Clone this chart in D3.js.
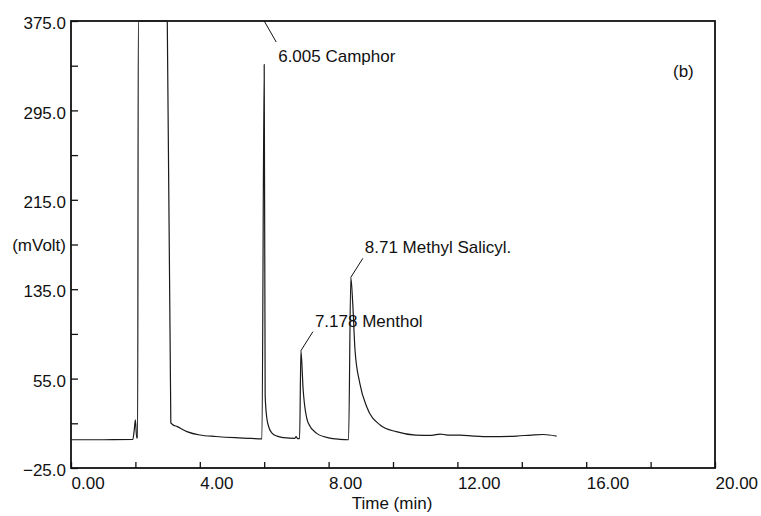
<!DOCTYPE html>
<html>
<head>
<meta charset="utf-8">
<script src="https://cdn.jsdelivr.net/npm/d3@7"></script>
<style>
  body { margin: 0; background: #fff; }
  text { font-family: "Liberation Sans", Arial, sans-serif; fill: #111; }
</style>
</head>
<body>
<div id="main"></div>
<script>
// chromatogram trace (time in min, signal in mVolt)
const timeMin = [0.0, 1.0, 1.92, 1.96, 2.0, 2.04, 2.07, 2.09, 2.99, 3.1, 3.15, 3.3, 3.6, 4.0, 4.5, 5.1, 5.6, 5.9, 5.93,
  6.0, 6.03, 6.08, 6.15, 6.25, 6.4, 6.6, 6.95, 6.99, 7.03, 7.07, 7.1, 7.14, 7.21, 7.37, 7.63, 8.0, 8.35, 8.62,
  8.69, 8.75, 8.82, 8.97, 9.18, 9.6, 10.1, 10.7, 11.2, 11.46, 11.7, 12.08, 12.5, 13.0, 13.84, 14.3, 14.67, 15.08];
const signal = [0.3, 0.3, 0.5, 8, 18, 2, 2, 375, 375, 15.4, 14, 12, 7.6, 4.5, 3.2, 2.1, 1.5, 1, 1,
  336, 40, 20, 11, 6, 3.5, 2.2, 1.5, 3, 1.5, 1.2, 1.2, 80, 44.8, 15, 6, 2, 0.7, 0.3,
  145.6, 122, 80.6, 50.8, 30, 13.5, 7.5, 4.5, 4.2, 5.4, 4.5, 4.5, 3.6, 3, 3.6, 4.5, 5, 3.6];

// peak annotations
const peakNames = ['6.005 Camphor', '7.178 Menthol', '8.71 Methyl Salicyl.'];
const peakTimes = [6.0, 7.14, 8.69];
const peakValues = [375, 80, 145.6];

const yTicks = [-25, 15, 55, 95, 135, 175, 215, 255, 295, 335, 375];
const yLabels = [-25, 55, 135, 215, 295, 375];
const xTicks = [0, 2, 4, 6, 8, 10, 12, 14, 16, 18, 20];
const xLabels = [0, 4, 8, 12, 16, 20];

const w = 761, h = 516;
const padLeft = 71, padRight = 715, padTop = 21, padBottom = 468;

const x = d3.scaleLinear().domain([0, 20]).range([padLeft, padRight]);
const y = d3.scaleLinear().domain([-25, 375]).range([padBottom, padTop]);

const svg = d3.select('#main').append('svg')
  .attr('width', w)
  .attr('height', h);

// y axis, ticks pointing inward
const yAxis = d3.axisLeft(y)
  .tickValues(yTicks)
  .tickSizeInner(-7)
  .tickSizeOuter(0)
  .tickPadding(5)
  .tickFormat(d => yLabels.includes(d) ? d3.format('.1f')(d) : '');

const gy = svg.append('g')
  .attr('transform', 'translate(' + padLeft + ',0)')
  .call(yAxis);
gy.select('.domain').remove();
gy.selectAll('line').attr('stroke', '#111').attr('stroke-width', 1.3);
gy.selectAll('text')
  .attr('x', -5)
  .attr('dy', '0.45em')
  .style('font-size', '17px')
  .style('text-anchor', 'end');

// x axis, ticks pointing up, labels start at the tick
const xAxis = d3.axisBottom(x)
  .tickValues(xTicks)
  .tickSizeInner(-6)
  .tickSizeOuter(0)
  .tickFormat(d => xLabels.includes(d) ? d3.format('.2f')(d) : '');

const gx = svg.append('g')
  .attr('transform', 'translate(0,' + padBottom + ')')
  .call(xAxis);
gx.select('.domain').remove();
gx.selectAll('line').attr('stroke', '#111').attr('stroke-width', 1.3);
gx.selectAll('text')
  .attr('y', 9)
  .attr('dy', '0.71em')
  .style('font-size', '17px')
  .style('text-anchor', 'start');

// frame
svg.append('rect')
  .attr('x', padLeft)
  .attr('y', padTop)
  .attr('width', padRight - padLeft)
  .attr('height', padBottom - padTop)
  .attr('fill', 'none')
  .attr('stroke', '#111')
  .attr('stroke-width', 1.8);

// trace
const line = d3.line()
  .x((d, i) => x(timeMin[i]))
  .y(d => y(d))
  .curve(d3.curveMonotoneX);

svg.append('path')
  .datum(signal)
  .attr('d', line)
  .attr('fill', 'none')
  .attr('stroke', '#1a1a1a')
  .attr('stroke-width', 1.2);

// peak labels with leader lines
const labelDx = [12, 12, 12];
const labelDy = [21, -19, -19];
peakNames.forEach((name, i) => {
  const px = x(peakTimes[i]);
  const py = y(peakValues[i]);
  svg.append('line')
    .attr('x1', px)
    .attr('y1', py)
    .attr('x2', px + labelDx[i])
    .attr('y2', py + labelDy[i])
    .attr('stroke', '#111')
    .attr('stroke-width', 1);
  svg.append('text')
    .attr('x', px + labelDx[i] + 2)
    .attr('y', py + labelDy[i] + (i === 0 ? 20 : -5))
    .style('font-size', '17px')
    .text(name);
});

svg.append('text')
  .attr('x', 66)
  .attr('y', y(175) + 6)
  .style('font-size', '17px')
  .style('text-anchor', 'end')
  .text('(mVolt)');

svg.append('text')
  .attr('x', 673)
  .attr('y', 77)
  .style('font-size', '17px')
  .text('(b)');

svg.append('text')
  .attr('x', 392)
  .attr('y', 509)
  .style('font-size', '17px')
  .style('text-anchor', 'middle')
  .text('Time (min)');
</script>
</body>
</html>
